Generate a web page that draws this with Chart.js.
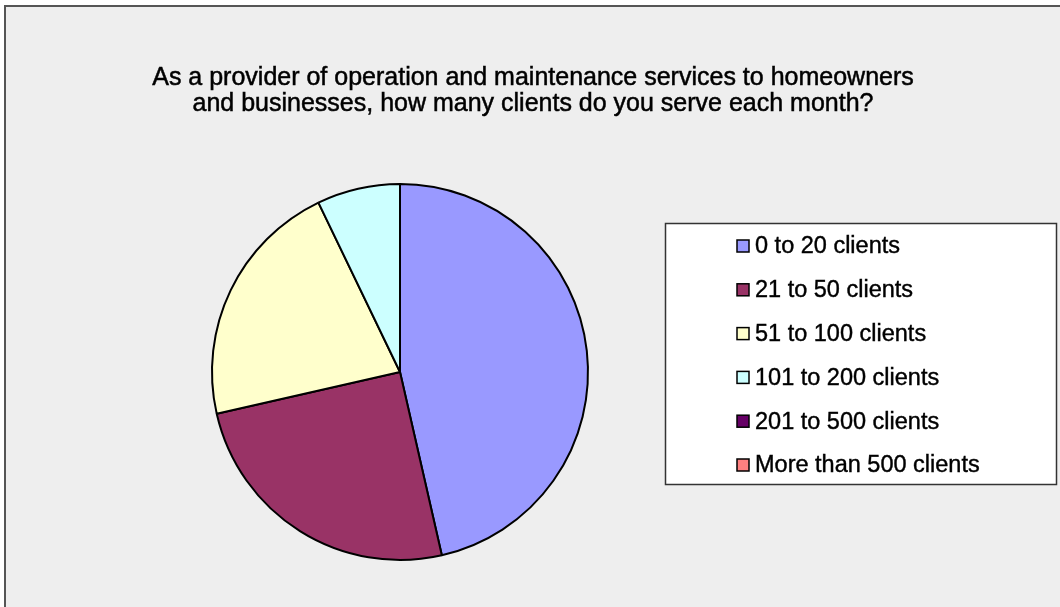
<!DOCTYPE html>
<html>
<head>
<meta charset="utf-8">
<script src="https://cdn.jsdelivr.net/npm/chart.js@4/dist/chart.umd.min.js"></script>
<style>
    html, body { margin: 0; padding: 0; background: #fff; }
    #wrap { width: 1060px; height: 607px; position: relative; }
</style>
</head>
<body>
<div id="wrap"><canvas id="pieChart" width="1060" height="607"></canvas></div>
<script>
const tituloLineas = [
    "As a provider of operation and maintenance services to homeowners",
    "and businesses, how many clients do you serve each month?"
];
const categorias = [
    "0 to 20 clients",
    "21 to 50 clients",
    "51 to 100 clients",
    "101 to 200 clients",
    "201 to 500 clients",
    "More than 500 clients"
];
const respuestas = [13, 7, 6, 2, 0, 0];
const colores = ["#9999FF", "#993366", "#FFFFCC", "#CCFFFF", "#660066", "#FF8080"];

const FUENTE = "'Liberation Sans', Arial, sans-serif";

// texto con un trazo fino para que quede algo más grueso
function textoGrueso(c, txt, x, y) {
    c.fillText(txt, x, y);
    c.strokeText(txt, x, y);
}

// fondo gris, marco, título y leyenda dibujados a mano sobre el canvas
const decorado = {
    id: "decorado",
    beforeDraw(chart) {
        const c = chart.ctx;
        c.save();
        c.fillStyle = "#ffffff";
        c.fillRect(0, 0, chart.width, chart.height);
        c.fillStyle = "#EEEEEE";
        c.fillRect(5, 6, chart.width - 5, chart.height - 6);
        c.strokeStyle = "#555555";
        c.lineWidth = 2;
        c.beginPath();
        c.moveTo(5, chart.height);
        c.lineTo(5, 6);
        c.lineTo(chart.width, 6);
        c.stroke();

        // título
        c.fillStyle = "#000";
        c.strokeStyle = "#000";
        c.lineWidth = 0.5;
        c.font = "25px " + FUENTE;
        c.textAlign = "center";
        c.textBaseline = "alphabetic";
        tituloLineas.forEach((linea, i) => {
            textoGrueso(c, linea, 533, 85 + i * 25.5);
        });
        c.restore();
    },
    afterDraw(chart) {
        const c = chart.ctx;
        const etiquetas = chart.data.labels;
        const fondos = chart.data.datasets[0].backgroundColor;
        c.save();
        c.fillStyle = "#ffffff";
        c.fillRect(665, 223, 392, 262);
        c.strokeStyle = "#333";
        c.lineWidth = 1.5;
        c.strokeRect(665.5, 223.5, 391, 261);
        c.font = "23.5px " + FUENTE;
        c.textAlign = "left";
        c.textBaseline = "middle";
        etiquetas.forEach((txt, i) => {
            const y = 246 + i * 43.8;
            c.fillStyle = fondos[i];
            c.fillRect(737, y - 6, 12, 12);
            c.strokeStyle = "#000";
            c.lineWidth = 1.5;
            c.strokeRect(737, y - 6, 12, 12);
            c.fillStyle = "#000";
            c.lineWidth = 0.4;
            textoGrueso(c, txt, 755, y + 1);
        });
        c.restore();
    }
};

document.addEventListener("DOMContentLoaded", () => {
    const ctx = document.getElementById("pieChart");
    new Chart(ctx, {
        type: "pie",
        data: {
            labels: categorias,
            datasets: [{
                data: respuestas,
                backgroundColor: colores,
                borderColor: "#000",
                borderWidth: 2
            }]
        },
        options: {
            responsive: false,
            animation: false,
            layout: {
                padding: { left: 211, right: 471, top: 183, bottom: 46 }
            },
            plugins: {
                legend: { display: false },
                title: { display: false },
                tooltip: { enabled: false }
            }
        },
        plugins: [decorado]
    });
});
</script>
</body>
</html>
